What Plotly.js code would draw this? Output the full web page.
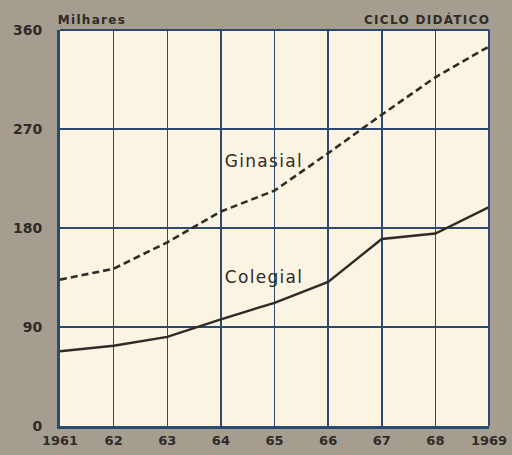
<!DOCTYPE html>
<html>
<head>
<meta charset="utf-8">
<script src="https://cdn.plot.ly/plotly-3.0.1.min.js"></script>
<style>
  html, body { margin: 0; padding: 0; background: #a59e90; }
  #chart { width: 512px; height: 455px; }
  #chart .annotation-text { letter-spacing: 1.3px; }
</style>
</head>
<body>
<div id="chart"></div>
<script>
const years = [1961, 1962, 1963, 1964, 1965, 1966, 1967, 1968, 1969];
const yearLabels = ['1961', '62', '63', '64', '65', '66', '67', '68', '1969'];
const ginasial = [133, 143, 167, 195, 214, 248, 283, 317, 345];
const colegial = [68, 73, 81, 97, 112, 131, 170, 175, 199];
const yTicks = [0, 90, 180, 270, 360];

const ink = '#302b27';
const grid = '#2b4a72';
const font = '"DejaVu Sans", Lato, sans-serif';

const traces = [
  { x: years, y: ginasial, name: 'Ginasial', mode: 'lines',
    line: { color: ink, width: 2.6, dash: '7px,4px' }, hoverinfo: 'skip' },
  { x: years, y: colegial, name: 'Colegial', mode: 'lines',
    line: { color: ink, width: 2.4 }, hoverinfo: 'skip' }
];

const layout = {
  width: 512, height: 455,
  margin: { l: 60, r: 23, t: 30, b: 29 },
  paper_bgcolor: '#a59e90',
  plot_bgcolor: '#fbf4e3',
  showlegend: false,
  font: { family: font, color: ink, size: 12 },
  xaxis: {
    range: [1961, 1969],
    tickvals: years, ticktext: yearLabels,
    showgrid: true, gridcolor: grid, gridwidth: 1.5,
    zeroline: false,
    showline: true, linecolor: grid, linewidth: 3,
    ticks: '', tickfont: { family: font, size: 13, color: ink, weight: 'bold' },
    fixedrange: true
  },
  yaxis: {
    range: [0, 360],
    tickvals: yTicks, ticktext: yTicks.map(String),
    showgrid: true, gridcolor: grid, gridwidth: 1.5,
    zeroline: false,
    showline: true, linecolor: grid, linewidth: 3,
    ticks: '', ticklabelstandoff: 12,
    tickfont: { family: font, size: 14, color: ink, weight: 'bold' },
    fixedrange: true
  },
  shapes: [
    { type: 'line', xref: 'paper', yref: 'paper', x0: 0, x1: 1, y0: 1, y1: 1,
      line: { color: grid, width: 2 } },
    { type: 'line', xref: 'paper', yref: 'paper', x0: 1, x1: 1, y0: 0, y1: 1,
      line: { color: grid, width: 2 } }
  ],
  annotations: [
    { xref: 'paper', yref: 'paper', x: 0, y: 1, xanchor: 'left', yanchor: 'bottom',
      xshift: 1, yshift: 1, showarrow: false, text: '<b>Milhares</b>',
      font: { family: font, size: 12, color: ink } },
    { xref: 'paper', yref: 'paper', x: 1, y: 1, xanchor: 'right', yanchor: 'bottom',
      xshift: -6, yshift: 1, showarrow: false, text: '<b>CICLO DIDÁTICO</b>',
      font: { family: font, size: 12, color: ink } },
    { x: 1964.8, y: 241, showarrow: false, text: 'Ginasial',
      font: { family: font, size: 17, color: ink } },
    { x: 1964.8, y: 135.5, showarrow: false, text: 'Colegial',
      font: { family: font, size: 17, color: ink } }
  ]
};

Plotly.newPlot('chart', traces, layout, { staticPlot: true, displayModeBar: false });
</script>
</body>
</html>
